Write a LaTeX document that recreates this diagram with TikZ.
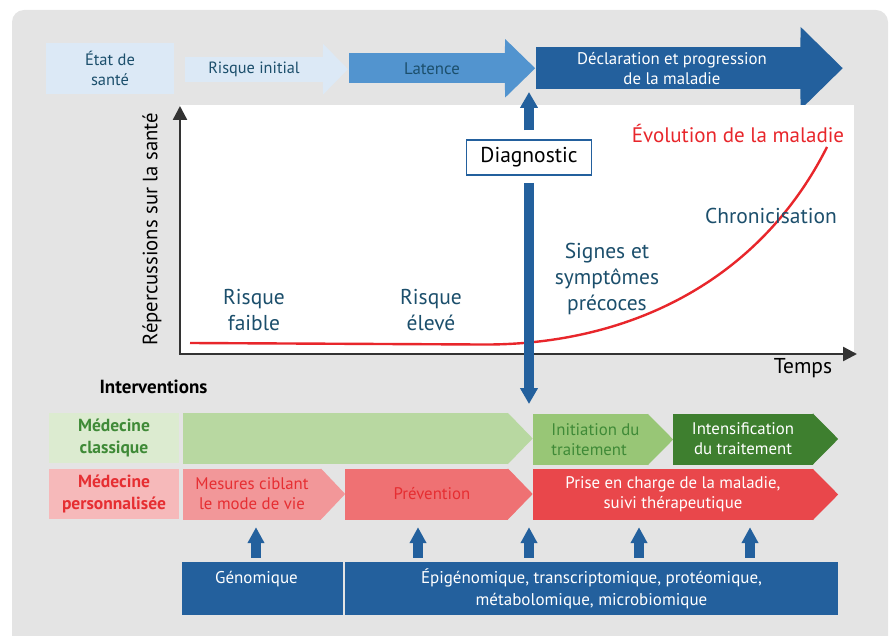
\documentclass[tikz,border=0pt]{standalone}
\usepackage{fontspec}
\setmainfont{PT Sans}
\usetikzlibrary{arrows.meta, positioning, calc}

\definecolor{panel}{HTML}{E4E4E4}
\definecolor{paleblue}{HTML}{DCE9F6}
\definecolor{midblue}{HTML}{5294CF}
\definecolor{deepblue}{HTML}{23609D}
\definecolor{slate}{HTML}{1C4F6C}
\definecolor{curvered}{HTML}{E8262B}
\definecolor{palegreen}{HTML}{DCEBD0}
\definecolor{softgreen}{HTML}{B8D8A1}
\definecolor{leafgreen}{HTML}{98C676}
\definecolor{darkgreen}{HTML}{3E7F2F}
\definecolor{textgreen}{HTML}{3F8A37}
\definecolor{palepink}{HTML}{F6B9BA}
\definecolor{softred}{HTML}{F29799}
\definecolor{midred}{HTML}{EF7173}
\definecolor{strongred}{HTML}{E9474B}
\definecolor{textred}{HTML}{E62E32}

\tikzset{
  tile/.style={rectangle, fill=#1, inner sep=0pt, align=center},
  band/.style={tile=#1, minimum height=51pt, font=\fontsize{16.8}{20}\selectfont},
  chart/.style={align=center, text=slate, font=\fontsize{21.5}{26}\selectfont},
  bluebar/.style={draw=deepblue, line width=10.5pt, -{Triangle[width=17pt,length=16pt]}},
  upbar/.style={draw=deepblue, line width=10pt, -{Triangle[width=16pt,length=16pt]}},
  axis/.style={draw=black!80, line width=2.4pt, -{Triangle[width=14pt,length=14pt]}}
}

% pointed end of a band
\newcommand{\bandhead}[3]{\fill[#2] ([xshift=-0.4pt]#1.north east) -- ([xshift=#3]#1.east) -- ([xshift=-0.4pt]#1.south east) -- cycle;}
% arrow head wider than its shaft
\newcommand{\flarehead}[4]{\fill[#2] ([xshift=-0.4pt]#1.north east) -- ([yshift=#4]#1.north east) -- ([xshift=#3]#1.east) -- ([yshift=-#4]#1.south east) -- ([xshift=-0.4pt]#1.south east) -- cycle;}

\begin{document}
\begin{tikzpicture}[x=1pt, y=-1pt]
  \useasboundingbox (0,0) rectangle (896,636);
  \fill[panel] (12,636) [rounded corners=12pt] -- (12,10) -- (888,10) [sharp corners] -- (888,636) -- cycle;

  % stages of the disease
  \node (etat) [tile=paleblue, minimum width=128pt, minimum height=51pt, text=slate, font=\fontsize{16.5}{20}\selectfont] at (110,68.5) {État de\\santé};
  \node (risque) [band=paleblue, minimum width=138pt, minimum height=25pt, text=slate, font=\fontsize{16.3}{20}\selectfont] at (254,69.2) {Risque initial};
  \flarehead{risque}{paleblue}{24.7pt}{12.5pt}
  \node (latence) [band=midblue, minimum width=156pt, minimum height=30pt, text=slate] at (427,68.3) {\hspace*{10pt}Latence};
  \flarehead{latence}{midblue}{30pt}{14pt}
  \node (decl) [band=deepblue, minimum width=265pt, minimum height=42pt, text=white] at (668,68.2) {\hspace*{8pt}Déclaration et progression\\\hspace*{8pt}de la maladie};
  \flarehead{decl}{deepblue}{42pt}{20pt}

  % health impact over time
  \fill[white] (180,105) rectangle (854,353);
  \coordinate (origin) at (180,354);
  \draw[axis] (origin) -- (180,106);
  \draw[axis] ([xshift=-1.2pt]origin) -- (857,354);
  \node (impact) [rotate=90, font=\fontsize{20.7}{24}\selectfont] at (152,229) {Répercussions sur la santé};
  \node (temps) [font=\fontsize{21.5}{24}\selectfont] at (803,368) {Temps};
  \draw[curvered, line width=2.4pt] (190,343) -- (480,344.5) .. controls (630,346) and (760,280) .. (827,147);
  \node (evol) [chart, text=curvered, font=\fontsize{21}{26}\selectfont] at (738,133) {Évolution de la maladie};
  \node (faible) [chart] at (254,310) {Risque\\faible};
  \node (eleve) [chart] at (431,310) {Risque\\élevé};
  \node (signes) [chart] at (607,279) {Signes et\\symptômes\\précoces};
  \node (chron) [chart] at (771,216) {Chronicisation};

  \node (diag) [draw=deepblue, line width=1.8pt, fill=white, minimum width=125pt, minimum height=35pt, font=\fontsize{21.5}{24}\selectfont] at (529,157.5) {Diagnostic};
  \coordinate (decltip) at (529,92);
  \coordinate (rowtip) at (529,404);
  \draw[bluebar] ([yshift=9pt]diag.north) -- (decltip);
  \draw[bluebar] ([yshift=-7pt]diag.south) -- (rowtip);

  % care pathways
  \node (interv) [anchor=west, font=\bfseries\fontsize{19}{22}\selectfont] at (96,387) {Interventions};

  \node (classique) [tile=palegreen, minimum width=130pt, minimum height=50pt, text=textgreen, font=\bfseries\fontsize{17.5}{22}\selectfont] at (114,438) {Médecine\\classique};
  \node (suivi) [band=softgreen, minimum width=325pt] at (345.5,438.5) {};
  \bandhead{suivi}{softgreen}{24.5pt}
  \node (init) [band=leafgreen, minimum width=115pt, text=textgreen, align=left] at (590.5,439.5) {\hspace*{10pt}Initiation du\\\hspace*{10pt}traitement};
  \bandhead{init}{leafgreen}{25pt}
  \node (intens) [band=darkgreen, minimum width=140pt, text=white] at (743,439) {Intensification\\du traitement};
  \bandhead{intens}{darkgreen}{25pt}

  \node (perso) [tile=palepink, minimum width=130pt, minimum height=50pt, text=textred, font=\bfseries\fontsize{17.5}{22}\selectfont] at (114,494) {Médecine\\personnalisée};
  \node (mesures) [band=softred, minimum width=138pt, text=textred] at (252,494) {Mesures ciblant\\le mode de vie};
  \bandhead{mesures}{softred}{24pt}
  \node (prev) [band=midred, minimum width=163pt, text=textred] at (426.5,494) {\hspace*{11pt}Prévention};
  \bandhead{prev}{midred}{24.5pt}
  \node (prise) [band=strongred, minimum width=280pt, text=white] at (673,494.5) {Prise en charge de la maladie,\\suivi thérapeutique};
  \bandhead{prise}{strongred}{25pt}

  % omics data
  \node (genom) [tile=deepblue, minimum width=161pt, minimum height=53pt, text=white, text height=12pt, text depth=23pt, font=\fontsize{17}{22}\selectfont] at (262.5,588.5) {\hspace*{-12pt}Génomique};
  \node (epi) [tile=deepblue, minimum width=493pt, minimum height=53pt, text=white, font=\fontsize{17}{22}\selectfont] at (591.5,588.5) {Épigénomique, transcriptomique, protéomique,\\métabolomique, microbiomique};
  \foreach \x/\src in {256/genom, 418/epi, 529/epi, 639/epi, 750/epi}
    \draw[upbar] ([yshift=4pt]\x,0 |- \src.north) -- ([yshift=-8pt]\x,0 |- perso.south);
\end{tikzpicture}
\end{document}
